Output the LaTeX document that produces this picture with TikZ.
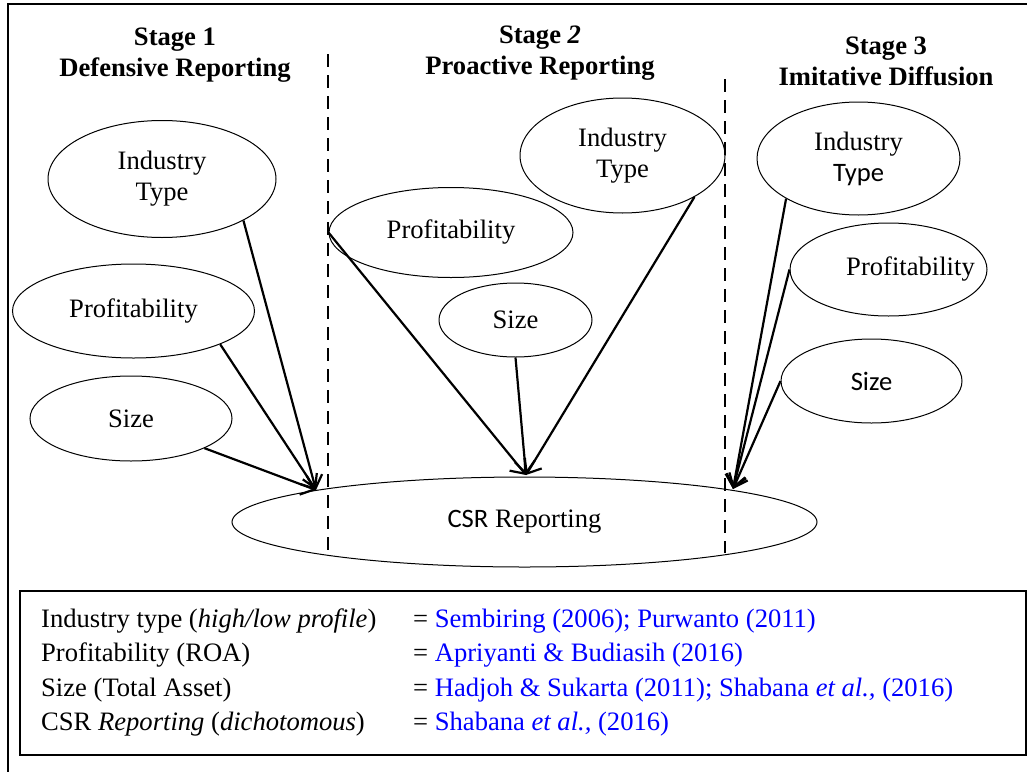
\documentclass[tikz,border=0pt]{standalone}
\usepackage{fontspec}
\setmainfont{Liberation Serif}
\newfontfamily\calibri{Carlito}
\usetikzlibrary{arrows.meta,shapes.geometric}
\tikzset{
	oval/.style={ellipse, draw, line width=1pt, inner sep=0pt, align=center},
	head/.style={font=\fontsize{26.6}{31}\selectfont\bfseries, align=center},
	infl/.style={line width=2.2pt, -{Straight Barb[length=12pt,width=20pt,line width=2.2pt]}},
	divider/.style={line width=1.6pt, dash pattern=on 13pt off 8pt},
	legtext/.style={anchor=base west, inner sep=0pt}
}

\begin{document}
\begin{tikzpicture}[x=1pt, y=-1pt, font=\fontsize{26.6}{31}\selectfont]
			%%%%% START %%%%%
			\useasboundingbox (0,0) rectangle (1027,771);
			\draw[line width=1.3pt] (8,4) rectangle (1045,790);
			
			% stage headings
			\node[head] (stA) at (175,55) {Stage 1\\Defensive Reporting};
			\node[head] (stB) at (540,53) {Stage \textit{2}\\Proactive Reporting};
			\node[head] (stC) at (886,61) {Stage 3\\Imitative Diffusion};
			
			\draw[divider] (328,54) -- (328,555);
			\draw[divider] (725,79) -- (725,553);
			
			% stage 1
			\node[oval, minimum width=228pt, minimum height=117pt] (type1) at (162,179) {Industry\\Type};
			\node[oval, minimum width=242pt, minimum height=94pt] (prof1) at (133.5,311) {Profitability};
			\node[oval, minimum width=202pt, minimum height=85pt] (size1) at (131,418.5) {Size};
			
			% stage 2
			\node[oval, minimum width=205pt, minimum height=115pt] (type2) at (622.5,155.5) {Industry\\Type};
			\node[oval, minimum width=244pt, minimum height=90pt] (prof2) at (451,232.5) {Profitability};
			\node[oval, minimum width=153pt, minimum height=74pt] (size2) at (515.5,320) {Size};
			
			% stage 3
			\node[oval, minimum width=203pt, minimum height=113pt] (type3) at (858.5,158.5) {Industry\\{\calibri Type}};
			\node[oval, minimum width=197pt, minimum height=93pt, label={[xshift=22pt]center:Profitability}] (prof3) at (888.5,269.5) {};
			\node[oval, minimum width=181pt, minimum height=84pt] (size3) at (871.5,381) {\calibri Size};
			
			\node[oval, minimum width=585pt, minimum height=90pt] (csr) at (524.5,522) {{\calibri CSR} Reporting};
			
			\coordinate (tip1) at (316,490);
			\coordinate (tip2) at (526,475);
			\coordinate (tip3) at (733,489);
			
			\draw[infl] (type1.-27) -- (tip1);
			\draw[infl] (prof1.-21) -- (tip1);
			\draw[infl] (size1.-22) -- (tip1);
			
			\draw[infl] (prof2.west) -- (tip2);
			\draw[infl] (size2.south) -- (tip2);
			\draw[infl] (type2.-30) -- (tip2);
			
			\draw[infl] (type3.-151) -- (tip3);
			\draw[infl] (prof3.west) -- (tip3);
			\draw[infl] (size3.west) -- (tip3);
			
			% legend
			\draw[line width=1.2pt] (20,591) rectangle (1026,755);
			
			\node[legtext] (legA) at (41,627) {Industry type (\textit{high/low profile})};
			\node[legtext] (legB) at (41,661.5) {Profitability (ROA)};
			\node[legtext] (legC) at (41,696) {Size (Total Asset)};
			\node[legtext] (legD) at (41,730.5) {CSR \textit{Reporting} (\textit{dichotomous})};
			
			\node[legtext] (refA) at (413,627) {= \textcolor{blue}{Sembiring (2006); Purwanto (2011)}};
			\node[legtext] (refB) at (413,661.5) {= \textcolor{blue}{Apriyanti \& Budiasih (2016)}};
			\node[legtext] (refC) at (413,696) {= \textcolor{blue}{Hadjoh \& Sukarta (2011); Shabana \textit{et al.,} (2016)}};
			\node[legtext] (refD) at (413,730.5) {= \textcolor{blue}{Shabana \textit{et al.,} (2016)}};
			
			%%%%% END %%%%%
\end{tikzpicture}
\end{document}
